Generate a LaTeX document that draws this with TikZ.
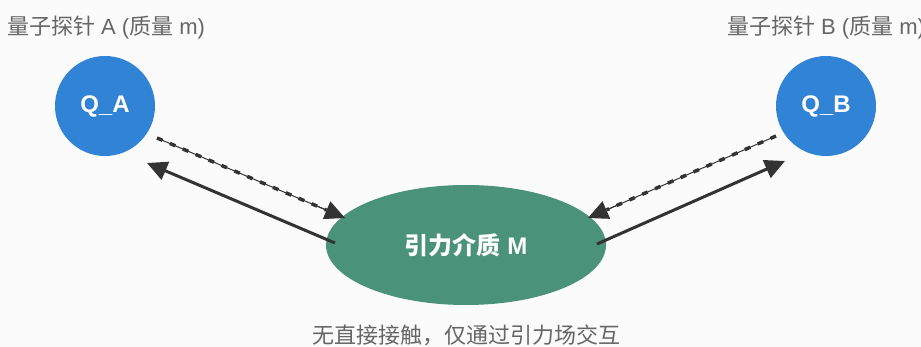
\documentclass[tikz,border=0pt]{standalone}
\usepackage{fontspec}
\setmainfont{Liberation Sans}
\newfontfamily\cjk{Noto Sans CJK SC}
\usetikzlibrary{arrows.meta,calc,shapes.geometric}
\definecolor{bg}{HTML}{FBFBFB}
\definecolor{probe}{HTML}{3183D6}
\definecolor{medium}{HTML}{4A927A}
\definecolor{lbl}{HTML}{666666}
\definecolor{arr}{HTML}{333333}
\begin{document}
\begin{tikzpicture}[x=1pt,y=-1pt,
  probenode/.style={circle,fill=probe,minimum size=100pt,inner sep=0pt,text=white,font=\fontsize{24}{26}\selectfont\bfseries},
  mediumnode/.style={ellipse,fill=medium,minimum width=280pt,minimum height=120pt,inner sep=0pt,text=white,font=\fontsize{24}{26}\selectfont\bfseries},
  lbltext/.style={text=lbl,font=\fontsize{22}{26}\selectfont,inner sep=0pt},
  solidarrow/.style={draw=arr,line width=3pt,-{Triangle[length=20pt,width=19pt]}},
  dashline/.style={draw=arr,line width=1pt},
  dashbar/.style={draw=arr,line width=3.5pt,dash pattern=on 6pt off 8pt},
  dashtip/.style={draw=arr,line width=1pt,-{Triangle[length=20pt,width=19pt]}}
]
\fill[bg] (0,0) rectangle (921,347);
\useasboundingbox (0,0) rectangle (921,347);

\node[probenode] (qa) at (105,106) {Q\_A};
\node[probenode] (qb) at (826,106) {Q\_B};
\node[mediumnode] (m) at (466,245) {{\cjk 引力介质} M};

\node[lbltext] (la) at (106,28) {{\cjk 量子探针} A ({\cjk 质量} m)};
\node[lbltext] (lb) at (826,28) {{\cjk 量子探针} B ({\cjk 质量} m)};
\node[lbltext] (lc) at (466,335) {\cjk 无直接接触，仅通过引力场交互};

% left pair
\coordinate (a1) at ($(qa.center)+(52,32)$);
\coordinate (a2) at ($(m.center)+(-121,-27)$);
\draw[dashline] (a1) -- ($(a1)!0.9!(a2)$);
\draw[dashbar] (a1) -- ($(a1)!0.9!(a2)$);
\draw[dashtip] ($(a1)!0.85!(a2)$) -- (a2);
\draw[solidarrow] ($(m.center)+(-131,-2)$) -- ($(qa.center)+(42,57)$);

% right pair
\coordinate (b1) at ($(qb.center)+(-50,30)$);
\coordinate (b2) at ($(m.center)+(122,-27)$);
\draw[dashline] (b1) -- ($(b1)!0.9!(b2)$);
\draw[dashbar] (b1) -- ($(b1)!0.9!(b2)$);
\draw[dashtip] ($(b1)!0.85!(b2)$) -- (b2);
\draw[solidarrow] ($(m.center)+(131,-1)$) -- ($(qb.center)+(-41,55)$);
\end{tikzpicture}
\end{document}
